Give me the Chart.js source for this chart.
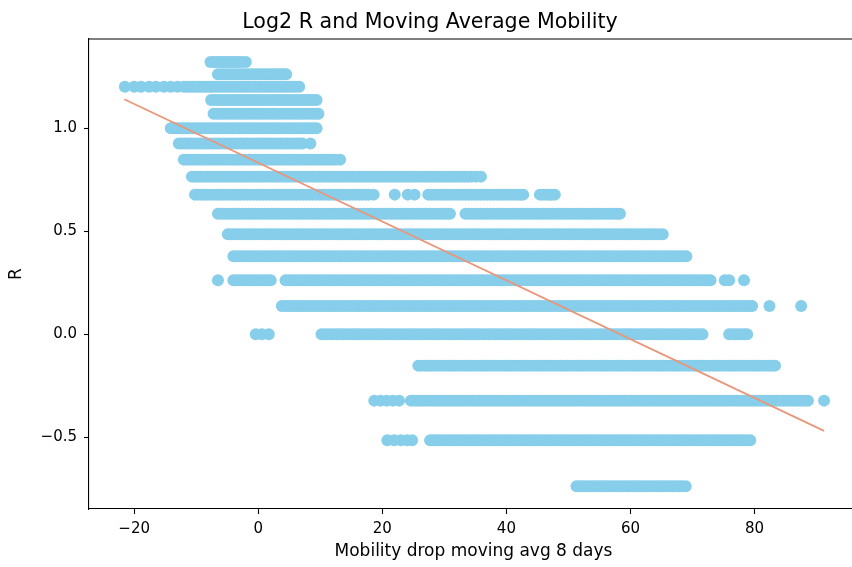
<!DOCTYPE html>
<html>
<head>
<meta charset="utf-8">
<script src="https://cdn.jsdelivr.net/npm/chart.js@4/dist/chart.umd.min.js"></script>
<style>
html,body{margin:0;padding:0;overflow:hidden;background:#fff;width:852px;height:567px;}
canvas{display:block;}
</style>
</head>
<body>
<canvas id="c" width="864" height="567"></canvas>
<script>
// Log2 R value of each row (R = 2.5 ... 0.6)
const rowLog2R = [1.3219, 1.2630, 1.2016, 1.1375, 1.0704, 1.0000, 0.9260, 0.8480, 0.7655, 0.6781,
                  0.5850, 0.4854, 0.3785, 0.2630, 0.1375, 0.0000, -0.1520, -0.3219, -0.5146, -0.7370];

// Mobility drop values (x) read for each row
const mobR25 = [-7.7,-7.2,-6.8,-6.3,-5.9,-5.4,-5.0,-4.5,-4.1,-3.6,-3.2,-2.6,-2.0];
const mobR24 = [-6.5,-6.0,-5.6,-5.1,-4.6,-4.2,-3.7,-3.2,-2.8,-2.3,-1.8,-1.4,-0.9,-0.4,0.1,0.5,1.0,1.5,1.9,2.4,2.8,3.3,3.7,4.1,4.5];
const mobR23 = [-21.5,-20.0,-18.9,-17.6,-16.5,-15.2,-14.1,-13.0,-12.0,
                -11.5,-11.0,-10.5,-10.0,-9.5,-9.0,-8.5,-8.0,-7.5,-7.0,-6.5,-6.0,-5.5,-5.0,-4.5,-4.0,-3.5,-3.0,-2.5,-2.0,-1.5,-1.0,-0.5,0.0,0.5,1.0,1.5,2.0,2.5,3.0,3.5,4.0,4.5,5.0,5.5,6.0,6.6];
const mobR22 = [-7.6,-7.1,-6.6,-6.1,-5.6,-5.1,-4.6,-4.1,-3.6,-3.1,-2.6,-2.1,-1.6,-1.1,-0.6,-0.1,0.4,0.9,1.4,1.9,2.4,2.9,3.4,3.9,4.4,4.9,5.4,5.9,6.4,6.9,7.4,7.9,8.4,8.9,9.4];
const mobR21 = [-7.2,-6.7,-6.2,-5.7,-5.2,-4.7,-4.2,-3.7,-3.2,-2.7,-2.2,-1.7,-1.2,-0.7,-0.2,0.3,0.8,1.3,1.8,2.3,2.8,3.3,3.8,4.3,4.8,5.3,5.8,6.3,6.8,7.3,7.8,8.3,8.8,9.3,9.7];
const mobR20 = [-14.1,-13.6,-13.1,-12.6,-12.1,-11.6,-11.1,-10.6,-10.1,-9.6,-9.1,-8.6,-8.1,-7.6,-7.1,-6.6,-6.1,-5.6,-5.1,-4.6,-4.1,-3.6,-3.1,-2.6,-2.1,-1.6,-1.1,-0.6,-0.1,0.4,0.9,1.4,1.9,2.4,2.9,3.4,3.9,4.4,4.9,5.4,5.9,6.4,6.9,7.4,7.9,8.4,8.9,9.4];
const mobR19 = [-12.8,-12.3,-11.8,-11.3,-10.8,-10.3,-9.8,-9.3,-8.8,-8.3,-7.8,-7.3,-6.8,-6.3,-5.8,-5.3,-4.8,-4.3,-3.8,-3.3,-2.8,-2.3,-1.8,-1.3,-0.8,-0.3,0.2,0.7,1.2,1.7,2.2,2.7,3.2,3.7,4.2,4.7,5.2,5.7,6.2,6.7,7.1,8.4];
const mobR18 = [-12.0,-11.5,-11.0,-10.5,-10.0,-9.5,-9.0,-8.5,-8.0,-7.5,-7.0,-6.5,-6.0,-5.5,-5.0,-4.5,-4.0,-3.5,-3.0,-2.5,-2.0,-1.5,-1.0,-0.5,0.0,0.5,1.0,1.5,2.0,2.5,3.0,3.5,4.0,4.5,5.0,5.5,6.0,6.5,7.0,7.5,8.0,8.5,9.0,9.5,10.0,10.5,11.0,11.5,12.0,12.5,13.2];
const mobR17 = [-10.7,-10.2,-9.7,-9.2,-8.7,-8.2,-7.7,-7.2,-6.7,-6.2,-5.7,-5.2,-4.7,-4.2,-3.7,-3.2,-2.7,-2.2,-1.7,-1.2,-0.7,-0.2,0.3,0.8,1.3,1.8,2.3,2.8,3.3,3.8,4.3,4.8,5.3,5.8,6.3,6.8,7.3,7.8,8.3,8.8,9.3,9.8,10.3,10.8,11.3,11.8,12.3,12.8,13.3,13.8,14.3,14.8,15.3,15.8,16.3,16.8,17.3,17.8,18.3,18.8,19.3,19.8,20.3,20.8,21.3,21.8,22.3,22.8,23.3,23.8,24.3,24.8,25.3,25.8,26.3,26.8,27.3,27.8,28.3,28.8,29.3,29.8,30.3,30.8,31.3,31.8,32.3,32.8,33.3,33.8,34.4,35.1,35.9];
const mobR16 = [-10.2,-9.7,-9.2,-8.7,-8.2,-7.7,-7.2,-6.7,-6.2,-5.7,-5.2,-4.7,-4.2,-3.7,-3.2,-2.7,-2.2,-1.7,-1.2,-0.7,-0.2,0.3,0.8,1.3,1.8,2.3,2.8,3.3,3.8,4.3,4.8,5.3,5.8,6.3,6.8,7.3,7.8,8.3,8.8,9.3,9.8,10.3,10.8,11.3,11.8,12.3,12.8,13.3,13.8,14.3,14.8,15.3,15.8,16.3,16.8,17.3,17.8,18.6,
                22.0,24.1,25.2,
                27.4,27.9,28.4,28.9,29.4,29.9,30.4,30.9,31.4,31.9,32.4,32.9,33.4,33.9,34.4,34.9,35.4,35.9,36.4,36.9,37.4,37.9,38.4,38.9,39.4,39.9,40.4,40.9,41.4,41.9,42.3,42.7,
                45.4,45.9,46.4,46.9,47.3,47.8];
const mobR15 = [-6.5,-6.0,-5.5,-5.0,-4.5,-4.0,-3.5,-3.0,-2.5,-2.0,-1.5,-1.0,-0.5,0.0,0.5,1.0,1.5,2.0,2.5,3.0,3.5,4.0,4.5,5.0,5.5,6.0,6.5,7.0,7.5,8.0,8.5,9.0,9.5,10.0,10.5,11.0,11.5,12.0,12.5,13.0,13.5,14.0,14.5,15.0,15.5,16.0,16.5,17.0,17.5,18.0,18.5,19.0,19.5,20.0,20.5,21.0,21.5,22.0,22.5,23.0,23.5,24.0,24.5,25.0,25.5,26.0,26.5,27.0,27.5,28.0,28.5,29.0,29.5,30.0,30.5,30.9,
                33.4,33.9,34.4,34.9,35.4,35.9,36.4,36.9,37.4,37.9,38.4,38.9,39.4,39.9,40.4,40.9,41.4,41.9,42.4,42.9,43.4,43.9,44.4,44.9,45.4,45.9,46.4,46.9,47.4,47.9,48.4,48.9,49.4,49.9,50.4,50.9,51.4,51.9,52.4,52.9,53.4,53.9,54.4,54.9,55.4,55.9,56.4,56.9,57.4,57.9,58.3];
const mobR14 = [-4.9,-4.4,-3.9,-3.4,-2.9,-2.4,-1.9,-1.4,-0.9,-0.4,0.1,0.6,1.1,1.6,2.1,2.6,3.1,3.6,4.1,4.6,5.1,5.6,6.1,6.6,7.1,7.6,8.1,8.6,9.1,9.6,10.1,10.6,11.1,11.6,12.1,12.6,13.1,13.6,14.1,14.6,15.1,15.6,16.1,16.6,17.1,17.6,18.1,18.6,19.1,19.6,20.1,20.6,21.1,21.6,22.1,22.6,23.1,23.6,24.1,24.6,25.1,25.6,26.1,26.6,27.1,27.6,28.1,28.6,29.1,29.6,30.1,30.6,31.1,31.6,32.1,32.6,33.1,33.6,34.1,34.6,35.1,35.6,36.1,36.6,37.1,37.6,38.1,38.6,39.1,39.6,40.1,40.6,41.1,41.6,42.1,42.6,43.1,43.6,44.1,44.6,45.1,45.6,46.1,46.6,47.1,47.6,48.1,48.6,49.1,49.6,50.1,50.6,51.1,51.6,52.1,52.6,53.1,53.6,54.1,54.6,55.1,55.6,56.1,56.6,57.1,57.6,58.1,58.6,59.1,59.6,60.1,60.6,61.1,61.6,62.1,62.6,63.1,63.6,64.1,64.6,65.2];
const mobR13 = [-4.0,-3.5,-3.0,-2.5,-2.0,-1.5,-1.0,-0.5,0.0,0.5,1.0,1.5,2.0,2.5,3.0,3.5,4.0,4.5,5.0,5.5,6.0,6.5,7.0,7.5,8.0,8.5,9.0,9.5,10.0,10.5,11.0,11.5,12.0,12.5,13.0,13.5,14.0,14.5,15.0,15.5,16.0,16.5,17.0,17.5,18.0,18.5,19.0,19.5,20.0,20.5,21.0,21.5,22.0,22.5,23.0,23.5,24.0,24.5,25.0,25.5,26.0,26.5,27.0,27.5,28.0,28.5,29.0,29.5,30.0,30.5,31.0,31.5,32.0,32.5,33.0,33.5,34.0,34.5,35.0,35.5,36.0,36.5,37.0,37.5,38.0,38.5,39.0,39.5,40.0,40.5,41.0,41.5,42.0,42.5,43.0,43.5,44.0,44.5,45.0,45.5,46.0,46.5,47.0,47.5,48.0,48.5,49.0,49.5,50.0,50.5,51.0,51.5,52.0,52.5,53.0,53.5,54.0,54.5,55.0,55.5,56.0,56.5,57.0,57.5,58.0,58.5,59.0,59.5,60.0,60.5,61.0,61.5,62.0,62.5,63.0,63.5,64.0,64.5,65.0,65.5,66.0,66.5,67.0,67.5,68.0,68.5,69.0];
const mobR12 = [-6.5,
                -4.0,-3.5,-3.0,-2.5,-2.0,-1.5,-1.0,-0.5,0.0,0.5,1.0,1.5,2.0,
                4.4,4.9,5.4,5.9,6.4,6.9,7.4,7.9,8.4,8.9,9.4,9.9,10.4,10.9,11.4,11.9,12.4,12.9,13.4,13.9,14.4,14.9,15.4,15.9,16.4,16.9,17.4,17.9,18.4,18.9,19.4,19.9,20.4,20.9,21.4,21.9,22.4,22.9,23.4,23.9,24.4,24.9,25.4,25.9,26.4,26.9,27.4,27.9,28.4,28.9,29.4,29.9,30.4,30.9,31.4,31.9,32.4,32.9,33.4,33.9,34.4,34.9,35.4,35.9,36.4,36.9,37.4,37.9,38.4,38.9,39.4,39.9,40.4,40.9,41.4,41.9,42.4,42.9,43.4,43.9,44.4,44.9,45.4,45.9,46.4,46.9,47.4,47.9,48.4,48.9,49.4,49.9,50.4,50.9,51.4,51.9,52.4,52.9,53.4,53.9,54.4,54.9,55.4,55.9,56.4,56.9,57.4,57.9,58.4,58.9,59.4,59.9,60.4,60.9,61.4,61.9,62.4,62.9,63.4,63.9,64.4,64.9,65.4,65.9,66.4,66.9,67.4,67.9,68.4,68.9,69.4,69.9,70.4,70.9,71.4,71.9,72.4,72.9,
                75.2,75.9,78.3];
const mobR11 = [3.8,4.3,4.8,5.3,5.8,6.3,6.8,7.3,7.8,8.3,8.8,9.3,9.8,10.3,10.8,11.3,11.8,12.3,12.8,13.3,13.8,14.3,14.8,15.3,15.8,16.3,16.8,17.3,17.8,18.3,18.8,19.3,19.8,20.3,20.8,21.3,21.8,22.3,22.8,23.3,23.8,24.3,24.8,25.3,25.8,26.3,26.8,27.3,27.8,28.3,28.8,29.3,29.8,30.3,30.8,31.3,31.8,32.3,32.8,33.3,33.8,34.3,34.8,35.3,35.8,36.3,36.8,37.3,37.8,38.3,38.8,39.3,39.8,40.3,40.8,41.3,41.8,42.3,42.8,43.3,43.8,44.3,44.8,45.3,45.8,46.3,46.8,47.3,47.8,48.3,48.8,49.3,49.8,50.3,50.8,51.3,51.8,52.3,52.8,53.3,53.8,54.3,54.8,55.3,55.8,56.3,56.8,57.3,57.8,58.3,58.8,59.3,59.8,60.3,60.8,61.3,61.8,62.3,62.8,63.3,63.8,64.3,64.8,65.3,65.8,66.3,66.8,67.3,67.8,68.3,68.8,69.3,69.8,70.3,70.8,71.3,71.8,72.3,72.8,73.3,73.8,74.3,74.8,75.3,75.8,76.3,76.8,77.3,77.8,78.3,78.8,79.3,79.6,
                82.4,87.5];
const mobR10 = [-0.4,0.6,1.7,
                10.2,10.7,11.2,11.7,12.2,12.7,13.2,13.7,14.2,14.7,15.2,15.7,16.2,16.7,17.2,17.7,18.2,18.7,19.2,19.7,20.2,20.7,21.2,21.7,22.2,22.7,23.2,23.7,24.2,24.7,25.2,25.7,26.2,26.7,27.2,27.7,28.2,28.7,29.2,29.7,30.2,30.7,31.2,31.7,32.2,32.7,33.2,33.7,34.2,34.7,35.2,35.7,36.2,36.7,37.2,37.7,38.2,38.7,39.2,39.7,40.2,40.7,41.2,41.7,42.2,42.7,43.2,43.7,44.2,44.7,45.2,45.7,46.2,46.7,47.2,47.7,48.2,48.7,49.2,49.7,50.2,50.7,51.2,51.7,52.2,52.7,53.2,53.7,54.2,54.7,55.2,55.7,56.2,56.7,57.2,57.7,58.2,58.7,59.2,59.7,60.2,60.7,61.2,61.7,62.2,62.7,63.2,63.7,64.2,64.7,65.2,65.7,66.2,66.7,67.2,67.7,68.2,68.7,69.2,69.7,70.2,70.7,71.2,71.6,
                75.9,76.4,76.9,77.4,77.9,78.4,78.8];
const mobR09 = [25.8,26.3,26.8,27.3,27.8,28.3,28.8,29.3,29.8,30.3,30.8,31.3,31.8,32.3,32.8,33.3,33.8,34.3,34.8,35.3,35.8,36.3,36.8,37.3,37.8,38.3,38.8,39.3,39.8,40.3,40.8,41.3,41.8,42.3,42.8,43.3,43.8,44.3,44.8,45.3,45.8,46.3,46.8,47.3,47.8,48.3,48.8,49.3,49.8,50.3,50.8,51.3,51.8,52.3,52.8,53.3,53.8,54.3,54.8,55.3,55.8,56.3,56.8,57.3,57.8,58.3,58.8,59.3,59.8,60.3,60.8,61.3,61.8,62.3,62.8,63.3,63.8,64.3,64.8,65.3,65.8,66.3,66.8,67.3,67.8,68.3,68.8,69.3,69.8,70.3,70.8,71.3,71.8,72.3,72.8,73.3,73.8,74.3,74.8,75.3,75.8,76.3,76.8,77.3,77.8,78.3,78.8,79.3,79.8,80.3,80.8,81.3,81.8,82.3,82.8,83.3];
const mobR08 = [18.7,19.7,20.7,21.7,22.7,
                24.6,25.1,25.6,26.1,26.6,27.1,27.6,28.1,28.6,29.1,29.6,30.1,30.6,31.1,31.6,32.1,32.6,33.1,33.6,34.1,34.6,35.1,35.6,36.1,36.6,37.1,37.6,38.1,38.6,39.1,39.6,40.1,40.6,41.1,41.6,42.1,42.6,43.1,43.6,44.1,44.6,45.1,45.6,46.1,46.6,47.1,47.6,48.1,48.6,49.1,49.6,50.1,50.6,51.1,51.6,52.1,52.6,53.1,53.6,54.1,54.6,55.1,55.6,56.1,56.6,57.1,57.6,58.1,58.6,59.1,59.6,60.1,60.6,61.1,61.6,62.1,62.6,63.1,63.6,64.1,64.6,65.1,65.6,66.1,66.6,67.1,67.6,68.1,68.6,69.1,69.6,70.1,70.6,71.1,71.6,72.1,72.6,73.1,73.6,74.1,74.6,75.1,75.6,76.1,76.6,77.1,77.6,78.1,78.6,79.1,79.6,80.1,80.6,81.1,81.6,82.1,82.6,83.1,83.6,84.1,84.6,85.1,85.6,86.1,86.6,87.1,87.6,88.1,88.6,
                91.2];
const mobR07 = [20.8,21.9,23.0,24.0,24.8,
                27.7,28.2,28.7,29.2,29.7,30.2,30.7,31.2,31.7,32.2,32.7,33.2,33.7,34.2,34.7,35.2,35.7,36.2,36.7,37.2,37.7,38.2,38.7,39.2,39.7,40.2,40.7,41.2,41.7,42.2,42.7,43.2,43.7,44.2,44.7,45.2,45.7,46.2,46.7,47.2,47.7,48.2,48.7,49.2,49.7,50.2,50.7,51.2,51.7,52.2,52.7,53.2,53.7,54.2,54.7,55.2,55.7,56.2,56.7,57.2,57.7,58.2,58.7,59.2,59.7,60.2,60.7,61.2,61.7,62.2,62.7,63.2,63.7,64.2,64.7,65.2,65.7,66.2,66.7,67.2,67.7,68.2,68.7,69.2,69.7,70.2,70.7,71.2,71.7,72.2,72.7,73.2,73.7,74.2,74.7,75.2,75.7,76.2,76.7,77.2,77.7,78.2,78.7,79.3];
const mobR06 = [51.3,51.8,52.3,52.8,53.3,53.8,54.3,54.8,55.3,55.8,56.3,56.8,57.3,57.8,58.3,58.8,59.3,59.8,60.3,60.8,61.3,61.8,62.3,62.8,63.3,63.8,64.3,64.8,65.3,65.8,66.3,66.8,67.3,67.8,68.3,68.9];

const rowMobility = [mobR25, mobR24, mobR23, mobR22, mobR21, mobR20, mobR19, mobR18, mobR17, mobR16,
                     mobR15, mobR14, mobR13, mobR12, mobR11, mobR10, mobR09, mobR08, mobR07, mobR06];

// Fitted regression line end points
const fitX = [-21.6, 91.2];
const fitY = [1.141, -0.469];

// Axis ticks
const xTicks = [-20, 0, 20, 40, 60, 80];
const yTicks = [-0.5, 0.0, 0.5, 1.0];

const scatterPts = [];
rowMobility.forEach((xs, i) => xs.forEach(x => scatterPts.push({x: x, y: rowLog2R[i]})));
const linePts = fitX.map((x, i) => ({x: x, y: fitY[i]}));

const FONT = 'DejaVu Sans';

const topSpine = {
  id: 'topSpine',
  afterDraw(chart) {
    const {ctx, chartArea} = chart;
    ctx.save();
    ctx.strokeStyle = '#000';
    ctx.lineWidth = 1.1;
    ctx.beginPath();
    ctx.moveTo(chartArea.left, chartArea.top);
    ctx.lineTo(chartArea.right, chartArea.top);
    ctx.lineTo(chartArea.right, chartArea.bottom);
    ctx.stroke();
    ctx.restore();
  }
};

new Chart(document.getElementById('c'), {
  type: 'scatter',
  data: {
    datasets: [
      {
        type: 'line',
        data: linePts,
        borderColor: '#E9967A',
        borderWidth: 1.8,
        pointRadius: 0,
        fill: false,
        tension: 0,
        order: 0
      },
      {
        type: 'scatter',
        data: scatterPts,
        backgroundColor: '#87CEEB',
        borderWidth: 0,
        pointRadius: 6,
        pointHoverRadius: 6,
        order: 1
      }
    ]
  },
  options: {
    responsive: false,
    animation: false,
    devicePixelRatio: 1,
    events: [],
    layout: { padding: { left: 0, right: 4, top: 0, bottom: 0 } },
    plugins: {
      legend: { display: false },
      tooltip: { enabled: false },
      title: {
        display: true,
        text: 'Log2 R and Moving Average Mobility',
        color: '#000',
        font: { family: FONT, size: 20.6, weight: 'normal', lineHeight: 1.2 },
        padding: { top: 10.6, bottom: 3.7 }
      }
    },
    scales: {
      x: {
        type: 'linear',
        min: -27.28,
        max: 96.67,
        afterBuildTicks: s => { s.ticks = xTicks.map(v => ({ value: v })); },
        afterFit: s => { s.height = 58; },
        grid: { display: true, drawOnChartArea: false, drawTicks: true, tickLength: 5, tickWidth: 1.1, tickColor: '#000' },
        border: { display: true, color: '#000', width: 1.1 },
        ticks: {
          color: '#000',
          font: { family: FONT, size: 15 },
          padding: 6,
          maxRotation: 0,
          autoSkip: false,
          callback: v => String(v).replace('-', '\u2212')
        },
        title: {
          display: true,
          text: 'Mobility drop moving avg 8 days',
          color: '#000',
          font: { family: FONT, size: 17, lineHeight: 1.2 },
          padding: { top: 0, bottom: 5 }
        }
      },
      y: {
        type: 'linear',
        min: -0.848,
        max: 1.4335,
        afterBuildTicks: s => { s.ticks = yTicks.map(v => ({ value: v })); },
        afterFit: s => { s.width = 89; },
        grid: { display: true, drawOnChartArea: false, drawTicks: true, tickLength: 5, tickWidth: 1.1, tickColor: '#000' },
        border: { display: true, color: '#000', width: 1.1 },
        ticks: {
          color: '#000',
          font: { family: FONT, size: 15 },
          padding: 7,
          autoSkip: false,
          callback: v => Number(v).toFixed(1).replace('-', '\u2212')
        },
        title: {
          display: true,
          text: 'R',
          color: '#000',
          font: { family: FONT, size: 17, lineHeight: 1.2 },
          padding: { top: 6.8, bottom: 0 }
        }
      }
    }
  },
  plugins: [topSpine]
});
</script>
</body>
</html>
